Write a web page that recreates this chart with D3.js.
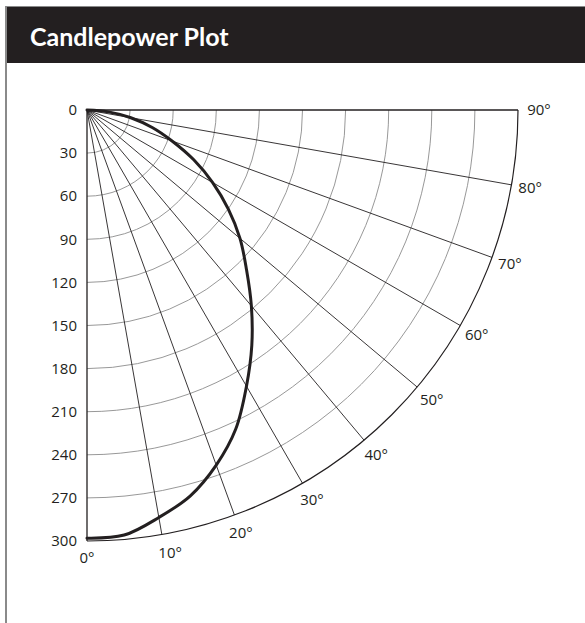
<!DOCTYPE html>
<html>
<head>
<meta charset="utf-8">
<script src="https://cdn.jsdelivr.net/npm/d3@7"></script>
<style>
  html, body { margin: 0; padding: 0; background: #fff; }
  svg { display: block; }
</style>
</head>
<body>
<svg id="chart" width="585" height="623"></svg>
<script>
// ---- data ----
const title = "Candlepower Plot";
const candelaTicks = [0, 30, 60, 90, 120, 150, 180, 210, 240, 270, 300];
const angleTicks = [0, 10, 20, 30, 40, 50, 60, 70, 80, 90];
const curveAngles = [0, 5, 10, 15, 20, 25, 30, 35, 40, 45, 50, 55, 60, 65, 70, 75, 80, 85, 90];
const curveCandela = [298, 297, 288, 278, 263, 245, 222, 200, 178, 157, 139, 120, 101, 82, 63, 47, 31, 15, 0];

// ---- layout ----
const svg = d3.select("#chart");
const W = 585, H = 623;
const cx = 87, cy = 110, R = 431;
const font = "'Open Sans', 'Noto Sans', sans-serif";
const ink = "#231f20";

// frame & header
svg.append("line").attr("x1", 6).attr("y1", 6).attr("x2", 6).attr("y2", H).attr("stroke", "#8a8a8a").attr("stroke-width", 2);
svg.append("line").attr("x1", 6).attr("y1", 6.5).attr("x2", W).attr("y2", 6.5).attr("stroke", "#8a8a8a").attr("stroke-width", 1);
svg.append("rect").attr("x", 7).attr("y", 7).attr("width", W - 7).attr("height", 56).attr("fill", ink);
svg.append("text").attr("x", 30).attr("y", 46).attr("fill", "#fff")
  .attr("font-family", "Lato, 'Open Sans', sans-serif").attr("font-weight", "bold").attr("font-size", 25).text(title);

const rScale = d3.scaleLinear().domain([0, 300]).range([0, R]);
const toRad = d => d * Math.PI / 180;
const g = svg.append("g").attr("transform", `translate(${cx},${cy})`);

// concentric arcs (grey) and outer arc (black)
candelaTicks.filter(v => v > 0).forEach(v => {
  const r = rScale(v);
  const p = d3.path();
  p.moveTo(r, 0);
  p.arc(0, 0, r, 0, Math.PI / 2);
  g.append("path").attr("d", p.toString()).attr("fill", "none")
    .attr("stroke", v === 300 ? ink : "#8c8c8c")
    .attr("stroke-width", v === 300 ? 1.2 : 0.9);
});

// spokes
angleTicks.forEach(a => {
  const t = toRad(a);
  const isAxis = (a === 0 || a === 90);
  g.append("line").attr("x1", 0).attr("y1", 0)
    .attr("x2", R * Math.sin(t)).attr("y2", R * Math.cos(t))
    .attr("stroke", ink).attr("stroke-width", isAxis ? 1.3 : 0.9);
});

// candela labels
g.selectAll("text.cd").data(candelaTicks).join("text")
  .attr("class", "cd")
  .attr("x", -10).attr("y", d => rScale(d)).attr("dy", "0.35em")
  .attr("text-anchor", "end").attr("font-family", font).attr("font-size", 15)
  .attr("fill", ink).text(d => d);

// angle labels
const labR = R + 19;
g.selectAll("text.ang").data(angleTicks).join("text")
  .attr("class", "ang")
  .attr("x", d => labR * Math.sin(toRad(d)) + (d === 10 ? 5 : 0) + (d === 90 ? 2 : 0))
  .attr("y", d => labR * Math.cos(toRad(d)) + (d === 0 ? -2 : 0))
  .attr("dy", "0.35em")
  .attr("text-anchor", "middle").attr("font-family", font).attr("font-size", 15)
  .attr("fill", ink).text(d => d + "°");

// candlepower curve
const pts = curveAngles.map((a, i) => ({ a, v: curveCandela[i] }));
const line = d3.lineRadial()
  .angle(d => Math.PI - toRad(d.a))
  .radius(d => rScale(d.v))
  .curve(d3.curveCatmullRom);
g.append("path").datum(pts).attr("d", line)
  .attr("fill", "none").attr("stroke", ink).attr("stroke-width", 3)
  .attr("stroke-linejoin", "round").attr("stroke-linecap", "round");
</script>
</body>
</html>
